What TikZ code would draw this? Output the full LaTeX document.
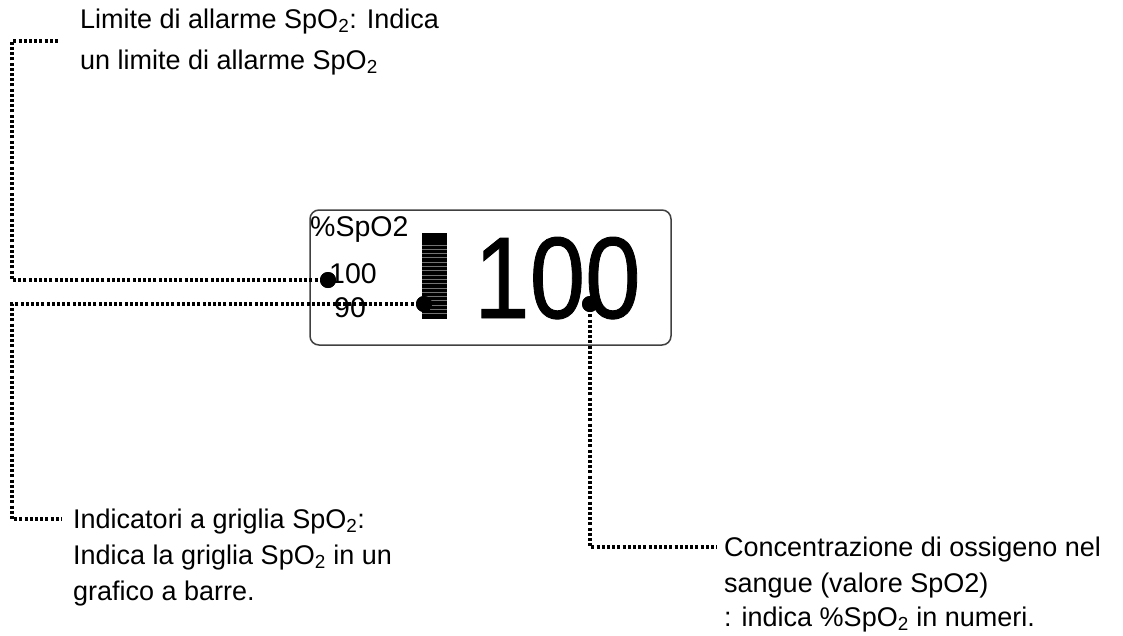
\documentclass[tikz,border=0pt]{standalone}
\usepackage{fontspec}
\setmainfont{Liberation Sans}
\newfontfamily\bigfont{Liberation Sans}[FakeBold=0.8]
\usepackage{graphicx}
\begin{document}
\begin{tikzpicture}[x=1pt,y=-1pt,
  lbl/.style={anchor=base west,inner sep=0pt,font=\fontsize{27}{30}\selectfont},
  scr/.style={anchor=base west,inner sep=0pt,font=\fontsize{28.5}{30}\selectfont},
  pin/.style={circle,fill=black,inner sep=0pt,minimum size=16pt},
  lead/.style={line width=3.3pt,dash pattern=on 3pt off 2.2pt}]
\useasboundingbox (0,0) rectangle (1123,635);
% display box
\node[draw=black!75,line width=1.5pt,rounded corners=9pt,minimum width=361pt,minimum height=135pt,inner sep=0pt] (screen) at (490.5,277.5) {};
\node[scr] (unit) at (310,236) {\%SpO2};
\node[scr] (hi) at (329,283) {100};
\node[scr] (lo) at (334,317) {90};
% bar graph
\node[fill=black,minimum width=25pt,minimum height=86pt,inner sep=0pt] (bar) at (434.5,276) {};
\foreach \yy in {245,249.3,...,317} \draw[white,opacity=.45,line width=.9pt] (422,\yy) -- (447,\yy);
% big value
\node[anchor=base west,inner sep=0pt,font=\bigfont\fontsize{116}{116}\selectfont] (val) at (474,318) {\scalebox{0.86}[1]{100}};
% labels
\node[lbl] (l1a) at (80,28) {Limite di allarme SpO\textsubscript{2}: Indica};
\node[lbl] (l1b) at (80,69) {un limite di allarme SpO\textsubscript{2}};
\node[lbl] (l2a) at (73,528) {Indicatori a griglia SpO\textsubscript{2}:};
\node[lbl] (l2b) at (73,564) {Indica la griglia SpO\textsubscript{2} in un};
\node[lbl] (l2c) at (73,600) {grafico a barre.};
\node[lbl] (l3a) at (724,556) {Concentrazione di ossigeno nel};
\node[lbl] (l3b) at (724,592) {sangue (valore SpO2)};
\node[lbl] (l3c) at (724,626) {: indica \%SpO\textsubscript{2} in numeri.};
% pins
\node[pin] (d1) at (328,280) {};
\node[pin] (d2) at (424,304) {};
\node[pin] (d3) at (590,304) {};
\coordinate (k1) at (12,280);
\coordinate (e1) at (60,41);
\coordinate (k2) at (12,304);
\coordinate (e2) at (62,519);
\coordinate (e3) at (717,547);
\draw[lead] (d1.center) -- (k1) |- (e1);
\draw[lead] (d2.center) -- (k2) |- (e2);
\draw[lead] (d3.center) |- (e3);
\node[pin] at (d1) {};
\node[pin] at (d2) {};
\node[pin] at (d3) {};
\end{tikzpicture}
\end{document}
